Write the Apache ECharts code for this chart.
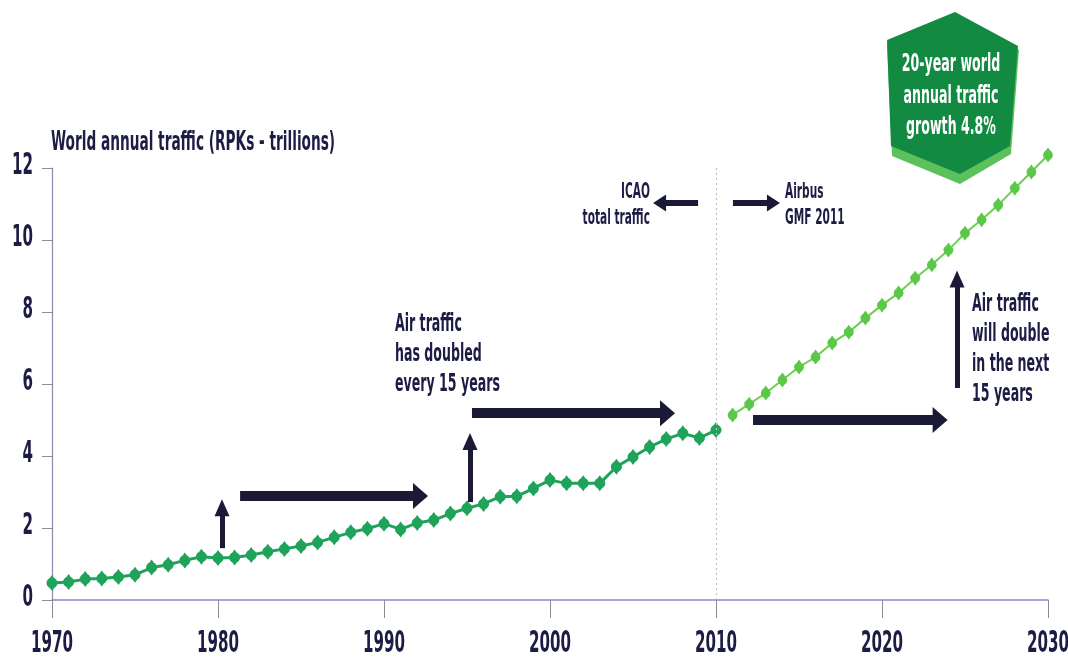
<!DOCTYPE html>
<html>
<head>
<meta charset="utf-8">
<script src="https://cdn.jsdelivr.net/npm/echarts@6/dist/echarts.min.js"></script>
<style>
  html, body { margin: 0; padding: 0; background: #ffffff; }
  #chart { width: 1068px; height: 660px; }
</style>
</head>
<body>
<div id="chart"></div>
<script>
// World annual traffic, revenue passenger kilometres (trillions)
const historyYears = [1970, 1971, 1972, 1973, 1974, 1975, 1976, 1977, 1978, 1979,
  1980, 1981, 1982, 1983, 1984, 1985, 1986, 1987, 1988, 1989,
  1990, 1991, 1992, 1993, 1994, 1995, 1996, 1997, 1998, 1999,
  2000, 2001, 2002, 2003, 2004, 2005, 2006, 2007, 2008, 2009, 2010];
const historyRpk = [0.47, 0.50, 0.58, 0.60, 0.64, 0.70, 0.90, 0.98, 1.10, 1.20,
  1.17, 1.18, 1.25, 1.34, 1.42, 1.50, 1.60, 1.74, 1.88, 1.98,
  2.12, 1.96, 2.14, 2.22, 2.40, 2.55, 2.67, 2.87, 2.88, 3.10,
  3.33, 3.24, 3.24, 3.24, 3.70, 3.97, 4.25, 4.47, 4.63, 4.50, 4.72];

const forecastYears = [2011, 2012, 2013, 2014, 2015, 2016, 2017, 2018, 2019, 2020,
  2021, 2022, 2023, 2024, 2025, 2026, 2027, 2028, 2029, 2030];
const forecastRpk = [5.14, 5.44, 5.75, 6.11, 6.47, 6.75, 7.14, 7.44, 7.83, 8.19,
  8.53, 8.94, 9.31, 9.72, 10.19, 10.56, 10.97, 11.44, 11.89, 12.36];

const xTicks = [1970, 1980, 1990, 2000, 2010, 2020, 2030];
const yTicks = [0, 2, 4, 6, 8, 10, 12];
const axisTitle = 'World annual traffic (RPKs - trillions)';
const splitYear = 2010;

// Arrows: [fromYear, fromValue, toYear, toValue, kind]
const arrows = [
  [1980.24, 1.44, 1980.24, 2.56, 'thin'],
  [1981.33, 2.89, 1992.20, 2.89, 'wide'],
  [1995.18, 2.72, 1995.18, 4.40, 'thin'],
  [1995.30, 5.19, 2007.08, 5.19, 'wide'],
  [2008.92, 11.03, 2006.60, 11.03, 'small'],
  [2011.02, 11.03, 2013.46, 11.03, 'small'],
  [2012.23, 5.00, 2023.50, 5.00, 'wide'],
  [2024.52, 5.89, 2024.52, 8.92, 'thin']
];

// Callout texts: [year, value, lines, alignment, kind]
const notes = [
  [1990.66, 8.06, ['Air traffic', 'has doubled', 'every 15 years'], 'left', 'big'],
  [2006.02, 11.69, ['ICAO', 'total traffic'], 'right', 'small'],
  [2014.16, 11.69, ['Airbus', 'GMF 2011'], 'left', 'small'],
  [2025.42, 8.63, ['Air traffic', 'will double', 'in the next', '15 years'], 'left', 'big']
];
const badgeLines = ['20-year world', 'annual traffic', 'growth 4.8%'];

const FONT = "'DejaVu Sans Condensed', 'DejaVu Sans', sans-serif";
const INK = '#1c1c44';
const ARROW = '#1a1a36';
const SQUEEZE = 0.56;

const arrowStyle = {
  thin:  { width: 5,  head: [15, 17] },
  wide:  { width: 10, head: [26, 15] },
  small: { width: 6,  head: [17, 13] }
};

const pair = (a, b) => a.map((v, i) => [v, b[i]]);

const markLines = [[
  { coord: [splitYear, 0], symbol: 'none', lineStyle: { color: '#c0c0c0', width: 1.2, type: [2, 3] } },
  { coord: [splitYear, 12], symbol: 'none', lineStyle: { color: '#c0c0c0', width: 1.2, type: [2, 3] } }
]].concat(arrows.map(a => {
  const s = arrowStyle[a[4]];
  const ls = { color: ARROW, width: s.width, type: 'solid', cap: 'butt' };
  return [
    { coord: [a[0], a[1]], symbol: 'none', lineStyle: ls },
    { coord: [a[2], a[3]], symbol: 'triangle', symbolSize: s.head, lineStyle: ls,
      itemStyle: { color: ARROW } }
  ];
}));

const bead = 'path://M5,0 L7,3 Q10,5 10,8 Q10,11 7,13 L5,16 L3,13 Q0,11 0,8 Q0,5 3,3 Z';

const chart = echarts.init(document.getElementById('chart'), null, { renderer: 'canvas' });

chart.setOption({
  animation: false,
  backgroundColor: '#ffffff',
  grid: { left: 52, right: 20, top: 168, bottom: 60, containLabel: false, outerBoundsMode: 'none' },
  xAxis: {
    type: 'value',
    min: xTicks[0], max: xTicks[xTicks.length - 1], interval: 10,
    axisLine: { lineStyle: { color: '#8585cf', width: 1.5 } },
    axisTick: { length: 18, lineStyle: { color: '#8a8a9a', width: 1 } },
    axisLabel: { show: false },
    splitLine: { show: false }
  },
  yAxis: {
    type: 'value',
    min: yTicks[0], max: yTicks[yTicks.length - 1], interval: 2,
    axisLine: { show: true, lineStyle: { color: '#8c8ca8', width: 1.2 } },
    axisTick: { show: true, length: 10, lineStyle: { color: '#8a8a9a' } },
    axisLabel: { show: false },
    splitLine: { show: false }
  },
  series: [
    {
      name: 'ICAO total traffic',
      type: 'line',
      data: pair(historyYears, historyRpk),
      clip: false,
      symbol: bead,
      symbolSize: [11, 16],
      lineStyle: { color: '#1fa35a', width: 3 },
      itemStyle: { color: '#1fa35a' },
      markLine: { silent: true, animation: false, label: { show: false }, data: markLines },
      z: 3
    },
    {
      name: 'Airbus GMF 2011',
      type: 'line',
      data: pair(forecastYears, forecastRpk),
      clip: false,
      symbol: bead,
      symbolSize: [10, 15],
      lineStyle: { color: '#6bd04c', width: 2 },
      itemStyle: { color: '#5cc84a' },
      z: 3
    }
  ]
});

// Condensed text drawn on top of the grid, positioned through its coordinate system
const toPx = (x, y) => chart.convertToPixel({ gridIndex: 0 }, [x, y]);
const label = (x, y, text, o) => ({
  type: 'text', x, y, scaleX: o.scaleX || SQUEEZE, z: 10,
  style: {
    text, fontFamily: FONT, fontSize: o.size, fontWeight: o.weight || 'bold',
    lineHeight: o.lh || o.size, fill: o.fill || INK,
    align: o.align || 'left', verticalAlign: o.valign || 'top'
  }
});

const graphics = [];

// tick labels
xTicks.forEach(t => {
  const p = toPx(t, 0);
  graphics.push(label(p[0], p[1] + 44, String(t), { size: 30, align: 'center', valign: 'middle' }));
});
yTicks.forEach(t => {
  const p = toPx(xTicks[0], t);
  graphics.push(label(p[0] - 19, p[1] - 2, String(t), { size: 30, align: 'right', valign: 'middle' }));
});

// axis title
const titleAnchor = toPx(xTicks[0], yTicks[yTicks.length - 1]);
graphics.push(label(titleAnchor[0] - 1, titleAnchor[1] - 25, axisTitle, { size: 26, valign: 'middle', scaleX: 0.585 }));

// callouts
notes.forEach(n => {
  const p = toPx(n[0], n[1]);
  const big = n[4] === 'big';
  graphics.push(label(p[0], p[1], n[2].join('\n'), {
    size: big ? 25 : 21, lh: big ? 30 : 26, align: n[3]
  }));
});

// growth badge
const badgeOuter = [[955, 16], [1019, 50], [1011, 154], [960, 184], [892, 156], [887, 44]];
const badgeInner = [[955, 12], [1018, 46], [1010, 146], [960, 174], [891, 146], [887, 40]];
graphics.push({ type: 'polygon', z: 8, shape: { points: badgeOuter }, style: { fill: '#5cc15a' } });
graphics.push({ type: 'polygon', z: 9, shape: { points: badgeInner }, style: { fill: '#138a42' } });
graphics.push(label(951, 49, badgeLines.join('\n'), {
  size: 25, lh: 31.5, align: 'center', fill: '#ffffff'
}));

chart.setOption({ graphic: graphics });
</script>
</body>
</html>
